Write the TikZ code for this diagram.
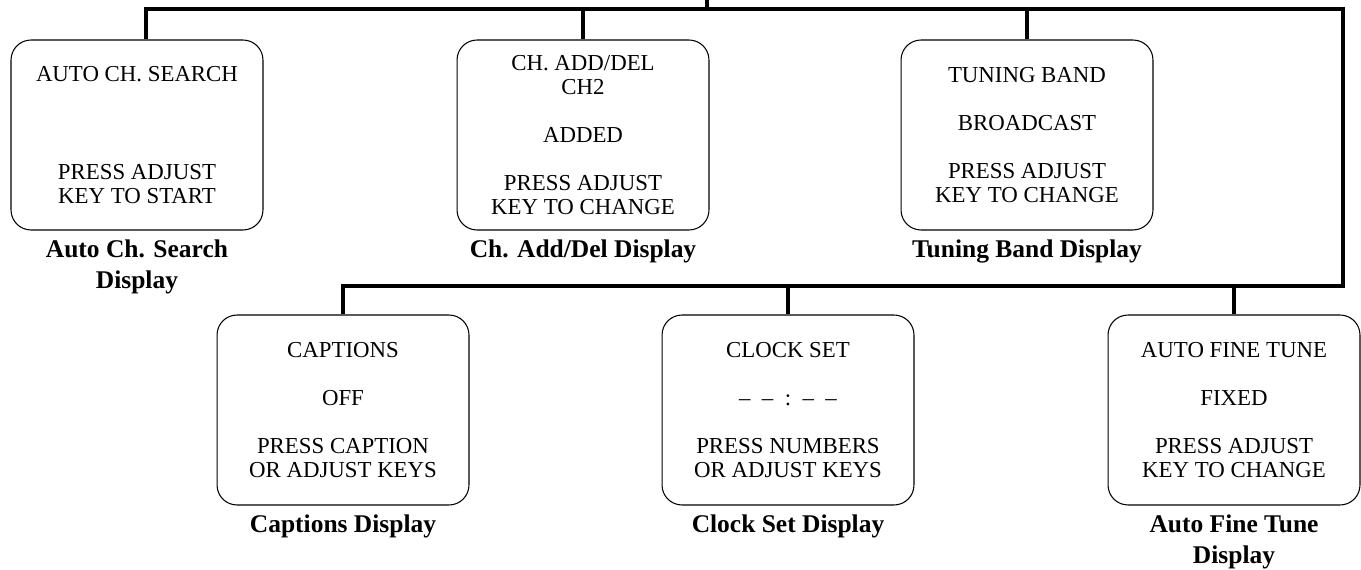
\documentclass[tikz,border=0pt]{standalone}
\usepackage{fontspec}
\setmainfont{Liberation Serif}
\usetikzlibrary{positioning}
\begin{document}
\begin{tikzpicture}[x=0.02cm, y=-0.02cm,
  display/.style={draw, line width=0.6pt, rounded corners=0.4cm, minimum width=5.04cm, minimum height=3.8cm, align=center, font=\fontsize{13}{13.6}\selectfont},
  caption/.style={align=center, inner sep=1pt, font=\fontsize{14.5}{18}\selectfont\bfseries},
  bus/.style={line width=2.5pt}]
  \useasboundingbox (0,0) rectangle (1361,570);
  % Top row of displays
  \node[display] (search) at (137,135) {AUTO CH. SEARCH\\[42pt]PRESS ADJUST\\KEY TO START};
  \node[display] (adddel) at (583,135) {CH. ADD/DEL\\CH2\\[13.6pt]ADDED\\[13.6pt]PRESS ADJUST\\KEY TO CHANGE};
  \node[display] (band) at (1027,135) {TUNING BAND\\[13.6pt]BROADCAST\\[13.6pt]PRESS ADJUST\\KEY TO CHANGE};
  \node[caption, below=4pt of search] (searchcap) {Auto Ch. Search\\Display};
  \node[caption, below=4pt of adddel] (adddelcap) {Ch. Add/Del Display};
  \node[caption, below=4pt of band] (bandcap) {Tuning Band Display};
  % Bottom row of displays
  \node[display] (captions) at (343,410) {CAPTIONS\\[13.6pt]OFF\\[13.6pt]PRESS CAPTION\\OR ADJUST KEYS};
  \node[display] (clock) at (788,410) {CLOCK SET\\[13.6pt]--\enspace--\enspace:\enspace--\enspace--\\[13.6pt]PRESS NUMBERS\\OR ADJUST KEYS};
  \node[display] (finetune) at (1234,410) {AUTO FINE TUNE\\[13.6pt]FIXED\\[13.6pt]PRESS ADJUST\\KEY TO CHANGE};
  \node[caption, below=4pt of captions] (captionscap) {Captions Display};
  \node[caption, below=4pt of clock] (clockcap) {Clock Set Display};
  \node[caption, below=4pt of finetune] (finetunecap) {Auto Fine Tune\\Display};
  % Bus lines
  \coordinate (feed) at (707,0);
  \coordinate (busNE) at (1343,9);
  \coordinate (busSE) at (1343,286);
  \draw[bus] ([xshift=0.18cm]search.north) |- (busNE) -- (busSE) -| (captions.north);
  \draw[bus] (feed) -- (feed |- busNE);
  \foreach \disp in {adddel,band} \draw[bus] (\disp.north) -- (\disp.north |- busNE);
  \foreach \disp in {clock,finetune} \draw[bus] (\disp.north) -- (\disp.north |- busSE);
\end{tikzpicture}
\end{document}
